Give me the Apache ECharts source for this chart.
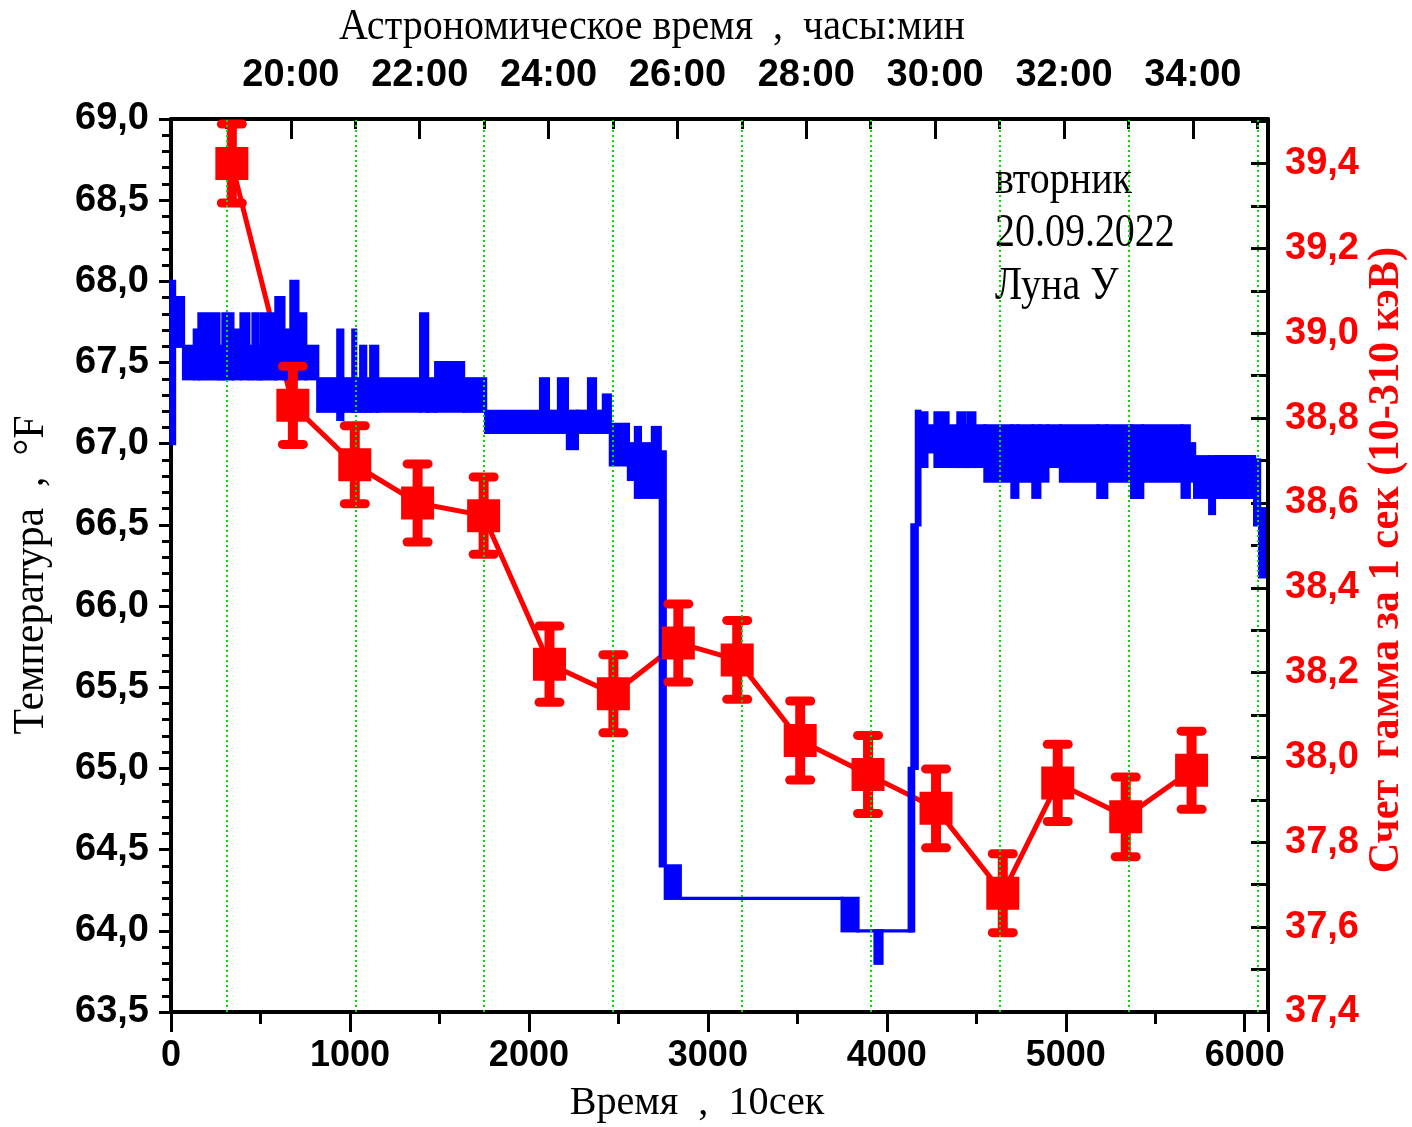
<!DOCTYPE html>
<html><head><meta charset="utf-8">
<script src="https://cdn.jsdelivr.net/npm/echarts@6/dist/echarts.min.js"></script>
<style>html,body{margin:0;padding:0;background:#fff}#c{width:1412px;height:1127px}</style>
</head><body><div id="c"></div>
<script>
// Temperature trace (°F): [xStart, xEnd, low, high], x in units of 10 s
const tempSegments = [
 [0, 20, 67.0, 68.0], [20, 70, 67.6, 67.9], [70, 130, 67.4, 67.6], [130, 156, 67.4, 67.7],
 [156, 268, 67.4, 67.8], [268, 290, 67.4, 67.6], [290, 346, 67.4, 67.8], [346, 391, 67.4, 67.7],
 [391, 435, 67.4, 67.8], [435, 458, 67.4, 67.6], [458, 485, 67.4, 67.8], [485, 502, 67.4, 67.6],
 [502, 586, 67.4, 67.8], [586, 631, 67.4, 67.9], [631, 670, 67.4, 67.7], [670, 709, 67.4, 68.0],
 [709, 753, 67.4, 67.8], [753, 820, 67.4, 67.6], [820, 932, 67.2, 67.4], [932, 960, 67.15, 67.7],
 [960, 1016, 67.2, 67.4], [1016, 1032, 67.2, 67.7], [1032, 1060, 67.2, 67.4], [1060, 1088, 67.2, 67.6],
 [1088, 1116, 67.2, 67.4], [1116, 1155, 67.2, 67.6], [1155, 1395, 67.2, 67.4], [1395, 1434, 67.2, 67.8],
 [1434, 1479, 67.2, 67.4], [1479, 1635, 67.2, 67.5], [1635, 1758, 67.2, 67.4], [1758, 2065, 67.07, 67.2],
 [2065, 2109, 67.07, 67.4], [2109, 2165, 67.07, 67.2], [2165, 2215, 67.07, 67.4], [2215, 2271, 66.97, 67.2],
 [2271, 2333, 67.07, 67.2], [2333, 2372, 67.07, 67.4], [2372, 2416, 67.07, 67.2], [2416, 2455, 67.07, 67.3],
 [2455, 2556, 66.87, 67.12], [2556, 2595, 66.78, 67.0], [2595, 2623, 66.67, 67.1], [2623, 2690, 66.67, 67.0],
 [2690, 2734, 66.67, 67.1], [2734, 2762, 64.4, 66.95], [2762, 2846, 64.2, 64.4], [2846, 3750, 64.2, 64.2],
 [3750, 3839, 64.0, 64.2], [3839, 4140, 64.0, 64.0], [3934, 3973, 63.8, 64.0], [4125, 4150, 64.0, 65.0],
 [4140, 4170, 65.0, 66.5], [4165, 4185, 66.5, 67.2], [4185, 4224, 66.86, 67.19], [4224, 4269, 66.95, 67.11],
 [4269, 4342, 66.86, 67.19], [4342, 4397, 66.86, 67.11], [4397, 4436, 66.86, 67.19], [4436, 4453, 66.86, 67.11],
 [4453, 4492, 66.86, 67.19], [4492, 4548, 66.86, 67.11], [4548, 4699, 66.77, 67.11], [4699, 4732, 66.67, 67.11],
 [4732, 4816, 66.77, 67.11], [4816, 4855, 66.67, 67.11], [4855, 4900, 66.77, 67.11], [4900, 4970, 66.86, 67.11],
 [4970, 5179, 66.77, 67.11], [5179, 5229, 66.67, 67.11], [5229, 5368, 66.77, 67.11], [5368, 5430, 66.67, 67.11],
 [5430, 5650, 66.77, 67.11], [5650, 5690, 66.67, 67.11], [5690, 5720, 66.77, 67.0], [5720, 5804, 66.67, 66.92],
 [5804, 5831, 66.57, 66.92], [5831, 6055, 66.67, 66.92], [6055, 6083, 66.5, 66.9], [6083, 6110, 66.18, 66.6]
];
// Gamma count rate, 1 s (10–310 keV)
const gammaX = [340, 681, 1027, 1378, 1747, 2115, 2472, 2835, 3164, 3516, 3895, 4275, 4648, 4955, 5335, 5703];
const gammaY = [39.40, 38.83, 38.69, 38.60, 38.57, 38.22, 38.15, 38.27, 38.23, 38.04, 37.96, 37.88, 37.68, 37.94, 37.86, 37.97];
const gammaErr = [0.093, 0.092, 0.092, 0.092, 0.091, 0.09, 0.092, 0.092, 0.093, 0.093, 0.092, 0.093, 0.093, 0.091, 0.094, 0.092];
// Axes
const xMin = 0, xMax = 6130, xStep = 1000;
const tempMin = 63.5, tempMax = 69.0, tempStep = 0.5;
const gammaMin = 37.4, gammaMax = 39.505, gammaStep = 0.2;
const topLabelHours = [20, 22, 24, 26, 28, 30, 32, 34];
const topMinorHours = [19, 21, 23, 25, 27, 29, 31, 33, 35];
const gridHours = [19, 21, 23, 25, 27, 29, 31, 33, 35];
const refHour = 19, xAtRefHour = 310, xPerHour = 360;
const noteLines = ['вторник', '20.09.2022', 'Луна У'];

const hourOf = x => refHour + (x - xAtRefHour) / xPerHour;
const xOfHour = h => xAtRefHour + (h - refHour) * xPerHour;
const comma = v => v.toFixed(1).replace('.', ',');

const chart = echarts.init(document.getElementById('c'), null, {renderer: 'canvas'});
const black = '#000';
const sansBold = {fontFamily: 'Liberation Sans', fontWeight: 'bold', fontSize: 38, color: black};
const serif = '"Liberation Serif", "DejaVu Serif", serif';

const option = {
  animation: false,
  backgroundColor: '#fff',
  grid: {left: 171, right: 144, top: 119, bottom: 115},
  xAxis: [
    {type: 'value', position: 'bottom', min: xMin, max: xMax, interval: xStep,
     axisLine: {show: true, onZero: false, lineStyle: {color: black, width: 4}},
     axisTick: {show: true, inside: false, length: 20, lineStyle: {color: black, width: 3}},
     minorTick: {show: true, splitNumber: 2, length: 12, lineStyle: {color: black, width: 3}},
     splitLine: {show: false},
     axisLabel: {showMaxLabel: false, margin: 26, formatter: v => String(v), fontFamily: '"Liberation Sans Narrow", "Liberation Sans"', fontWeight: 'bold', fontSize: 36, color: black}},
    {type: 'value', position: 'top', min: hourOf(xMin), max: hourOf(xMax),
     axisLine: {show: true, onZero: false, lineStyle: {color: black, width: 4}},
     axisTick: {show: true, inside: true, length: 20, customValues: topLabelHours, lineStyle: {color: black, width: 3}},
     splitLine: {show: false},
     axisLabel: {customValues: topLabelHours, formatter: v => v + ':00', margin: 24, ...sansBold}},
    {type: 'value', position: 'top', min: hourOf(xMin), max: hourOf(xMax),
     axisLine: {show: false},
     axisTick: {show: true, inside: true, length: 10, customValues: topMinorHours, lineStyle: {color: black, width: 3}},
     splitLine: {show: false}, axisLabel: {show: false}}
  ],
  yAxis: [
    {type: 'value', position: 'left', min: tempMin, max: tempMax, interval: tempStep,
     axisLine: {show: true, onZero: false, lineStyle: {color: black, width: 4}},
     axisTick: {show: true, length: 12, lineStyle: {color: black, width: 3}},
     minorTick: {show: true, splitNumber: 5, length: 9, lineStyle: {color: black, width: 3}},
     splitLine: {show: false},
     axisLabel: {formatter: comma, margin: 22, ...sansBold}},
    {type: 'value', position: 'right', min: gammaMin, max: gammaMax, interval: gammaStep,
     axisLine: {show: true, onZero: false, lineStyle: {color: black, width: 4}},
     axisTick: {show: true, inside: true, length: 17, lineStyle: {color: black, width: 3}},
     minorTick: {show: true, splitNumber: 2, length: 17, lineStyle: {color: black, width: 3}},
     splitLine: {show: false},
     axisLabel: {formatter: comma, showMaxLabel: false, margin: 17, ...sansBold, color: '#ff0000'}}
  ],
  graphic: [
    {type: 'text', x: 652, y: 27, scaleX: 0.89, style: {text: 'Астрономическое время  ,  часы:мин', font: '45px ' + serif, fill: black, align: 'center', verticalAlign: 'middle'}},
    {type: 'text', x: 697, y: 1103, scaleX: 0.98, style: {text: 'Время  ,  10сек', font: '41px ' + serif, fill: black, align: 'center', verticalAlign: 'middle'}},
    {type: 'text', x: 31, y: 575, rotation: Math.PI / 2, scaleX: 0.93, style: {text: 'Температура  ,  °F', font: '45px ' + serif, fill: black, align: 'center', verticalAlign: 'middle'}},
    {type: 'text', x: 1386, y: 560, rotation: Math.PI / 2, scaleX: 0.94, style: {text: 'Счет  гамма за 1 сек (10-310 кэВ)', font: 'bold 45px ' + serif, fill: '#ff0000', align: 'center', verticalAlign: 'middle'}},
    ...noteLines.map((t, i) => ({type: 'text', x: 995, y: 181 + i * 53, scaleX: 0.85, style: {text: t, font: '47px ' + serif, fill: black, align: 'left', verticalAlign: 'middle'}}))
  ],
  series: [
    {type: 'line', xAxisIndex: 0, yAxisIndex: 0, data: [[xMin, tempMin]], showSymbol: false, lineStyle: {opacity: 0}, z: 1, silent: true,
     markLine: {silent: true, symbol: ['none', 'none'], label: {show: false},
       lineStyle: {color: '#00dd00', type: [2, 3], width: 2},
       data: gridHours.map(h => ({xAxis: xOfHour(h)}))}},
    {type: 'line', xAxisIndex: 0, yAxisIndex: 1, data: gammaX.map((x, i) => [x, gammaY[i]]), showSymbol: false, symbol: 'none',
     lineStyle: {color: '#ff0000', width: 5}, z: 2},
    {type: 'custom', xAxisIndex: 0, yAxisIndex: 0, z: 3,
     data: tempSegments,
     encode: {x: [0, 1], y: [2, 3]},
     renderItem: (params, api) => {
       const p0 = api.coord([api.value(0), api.value(3)]);
       const p1 = api.coord([api.value(1), api.value(2)]);
       const pad = 1.6;
       return {type: 'rect', shape: {x: p0[0] - pad, y: p0[1] - pad, width: p1[0] - p0[0] + 2 * pad, height: p1[1] - p0[1] + 2 * pad},
               style: {fill: '#0000ff'}};
     }},
    {type: 'custom', xAxisIndex: 0, yAxisIndex: 1, z: 4,
     data: gammaX.map((x, i) => [x, gammaY[i], gammaErr[i]]),
     encode: {x: 0, y: 1},
     renderItem: (params, api) => {
       const x = api.value(0), y = api.value(1), e = api.value(2);
       const t = api.coord([x, y + e]), b = api.coord([x, y - e]);
       return {type: 'group', children: [
         {type: 'rect', shape: {x: t[0] - 5, y: t[1], width: 10, height: b[1] - t[1]}, style: {fill: '#ff0000'}},
         {type: 'rect', shape: {x: t[0] - 15, y: t[1] - 4.5, width: 30, height: 9, r: 4.5}, style: {fill: '#ff0000'}},
         {type: 'rect', shape: {x: b[0] - 15, y: b[1] - 4.5, width: 30, height: 9, r: 4.5}, style: {fill: '#ff0000'}}
       ]};
     }},
    {type: 'scatter', xAxisIndex: 0, yAxisIndex: 1, z: 5, symbol: 'rect', symbolSize: 33,
     itemStyle: {color: '#ff0000', opacity: 1},
     data: gammaX.map((x, i) => [x, gammaY[i]])}
  ]
};
chart.setOption(option);
</script></body></html>
